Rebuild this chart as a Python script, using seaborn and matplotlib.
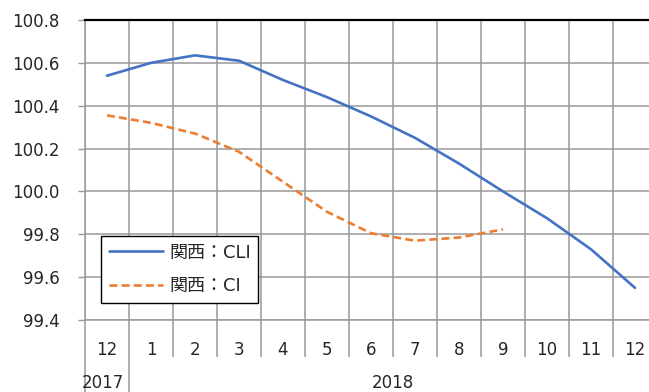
import pandas as pd
import matplotlib.pyplot as plt
import seaborn as sns

# months shown on the axis (Dec 2017 .. Dec 2018)
months = ['12', '1', '2', '3', '4', '5', '6', '7', '8', '9', '10', '11', '12']
years = ['2017', '2018']
cli = [100.54, 100.60, 100.635, 100.61, 100.52, 100.44, 100.35, 100.25,
       100.13, 100.0, 99.875, 99.73, 99.55]
ci = [100.355, 100.32, 100.27, 100.185, 100.045, 99.905, 99.805, 99.77,
      99.785, 99.823]
label_cli = '関西：CLI'
label_ci = '関西：CI'

df = pd.concat([
    pd.DataFrame({'pos': range(len(cli)), 'value': cli, 'series': label_cli}),
    pd.DataFrame({'pos': range(len(ci)), 'value': ci, 'series': label_ci}),
])

sns.set_style('white')
plt.rcParams['font.family'] = ['DejaVu Sans', 'Noto Sans CJK JP']

fig = plt.figure(figsize=(6.49, 3.92), dpi=100)
ax = fig.add_axes([85 / 649, 1 - 320 / 392, (657 - 85) / 649, 300 / 392])

sns.lineplot(data=df, x='pos', y='value', hue='series', style='series',
             palette={label_cli: '#4472C4', label_ci: '#ED7D31'},
             dashes={label_cli: '', label_ci: (3, 1.6)},
             linewidth=1.9, ax=ax, legend=False)

n = len(months)
ax.set_xlim(-0.5, n - 0.5)
ax.set_ylim(99.4, 100.8)
ax.set_yticks([99.4 + 0.2 * i for i in range(8)])
ax.yaxis.set_major_formatter(plt.FormatStrFormatter('%.1f'))
ax.set_xticks(range(n))
ax.set_xticklabels(months)
ax.set_xticks([i - 0.5 for i in range(n + 1)], minor=True)
ax.set_xlabel('')
ax.set_ylabel('')

ax.grid(False)
ax.grid(axis='y', which='major', color='#999999', linewidth=1.1)
ax.grid(axis='x', which='minor', color='#999999', linewidth=1.1)
ax.set_axisbelow(True)

ax.tick_params(axis='y', which='major', length=5, width=1, color='#999999',
               direction='out', pad=13, labelsize=12, left=True)
ax.tick_params(axis='x', which='major', length=0, pad=15, labelsize=12)
ax.tick_params(axis='x', which='minor', length=0)

for side in ['left', 'bottom']:
    ax.spines[side].set_color('#999999')
    ax.spines[side].set_linewidth(1.1)
ax.spines['right'].set_visible(False)
ax.spines['top'].set_color('black')
ax.spines['top'].set_linewidth(1.6)

# category separators below the axis
trans = ax.get_xaxis_transform()
ax.vlines([i - 0.5 for i in range(2, n + 1)], -37 / 300, 0, transform=trans,
          colors='#999999', linewidth=1.1, clip_on=False)
ax.vlines([-0.5, 0.5], -75 / 300, 0, transform=trans,
          colors='#999999', linewidth=1.1, clip_on=False)

# year labels
ax.text(-0.1, -63 / 300, years[0], transform=trans, ha='center', va='center',
        fontsize=12)
ax.text((1 + n - 1) / 2, -63 / 300, years[1], transform=trans, ha='center',
        va='center', fontsize=12)

leg = ax.legend(handles=ax.get_lines()[:2], labels=[label_cli, label_ci],
                loc='upper left', bbox_to_anchor=(0.028, 0.28),
                borderaxespad=0, fontsize=13, handlelength=3.0,
                labelspacing=0.85, fancybox=False, framealpha=1,
                edgecolor='black', borderpad=0.42, handletextpad=0.35)
leg.get_frame().set_linewidth(1.0)

fig.savefig('out.png', dpi=100)
